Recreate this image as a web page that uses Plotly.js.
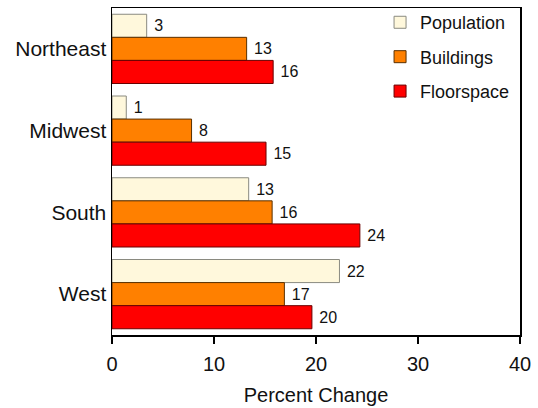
<!DOCTYPE html>
<html>
<head>
<meta charset="utf-8">
<script src="https://cdn.plot.ly/plotly-3.0.1.min.js"></script>
<style>
html,body{margin:0;padding:0;background:#fff;}
#chart{width:538px;height:408px;}
</style>
</head>
<body>
<div id="chart"></div>
<script>
const regions = ["Northeast", "Midwest", "South", "West"];
const population = [3.4, 1.4, 13.4, 22.3];
const buildings = [13.2, 7.8, 15.7, 16.9];
const floorspace = [15.8, 15.1, 24.3, 19.6];
const seriesNames = ["Population", "Buildings", "Floorspace"];
const xTicks = [0, 10, 20, 30, 40];

const FONT = "Liberation Sans, Arial, sans-serif";
const fills = ["#FFF8DC", "#FF8000", "#FF0000"];
const outlines = ["#8a8a80", "#5a3000", "#6a0000"];
const seriesValues = [population, buildings, floorspace];

const traces = seriesValues.map((vals, i) => ({
  type: "bar",
  orientation: "h",
  name: seriesNames[i],
  legendgroup: "g" + i,
  y: regions,
  x: vals,
  text: vals.map(v => " " + Math.round(v)),
  textposition: "outside",
  cliponaxis: false,
  textfont: {family: FONT, size: 16, color: "#111"},
  marker: {color: fills[i], line: {color: outlines[i], width: 1}},
  hoverinfo: "skip"
}));

const layout = {
  width: 538,
  height: 408,
  margin: {l: 112, r: 18, t: 8, b: 73, pad: 0, autoexpand: false},
  paper_bgcolor: "#ffffff",
  plot_bgcolor: "#ffffff",
  barmode: "group",
  bargap: 0.153,
  bargroupgap: 0,
  font: {family: FONT, color: "#111"},
  showlegend: true,
  legend: {
    x: 0.657, xanchor: "left",
    yref: "container",
    y: 0.99, yanchor: "top",
    traceorder: "grouped",
    tracegroupgap: 8,
    font: {family: FONT, size: 18, color: "#111"},
    bgcolor: "rgba(255,255,255,0)",
    borderwidth: 0
  },
  xaxis: {
    range: [0, 40],
    tickvals: xTicks,
    ticktext: xTicks.map(String),
    ticks: "outside",
    ticklen: 7,
    tickwidth: 1.5,
    tickcolor: "#000",
    ticklabelstandoff: 3,
    showgrid: false,
    zeroline: false,
    showline: true,
    linecolor: "#000",
    linewidth: 1.5,
    mirror: true,
    tickfont: {family: FONT, size: 20, color: "#111"},
    title: {text: "Percent Change", font: {family: FONT, size: 20, color: "#111"}, standoff: 14}
  },
  yaxis: {
    type: "category",
    categoryorder: "array",
    categoryarray: regions,
    autorange: "reversed",
    ticks: "",
    showgrid: false,
    zeroline: false,
    showline: true,
    linecolor: "#000",
    linewidth: 1.5,
    mirror: true,
    tickfont: {family: FONT, size: 21, color: "#111"}
  }
};

Plotly.newPlot("chart", traces, layout, {staticPlot: true, displayModeBar: false});
</script>
</body>
</html>
